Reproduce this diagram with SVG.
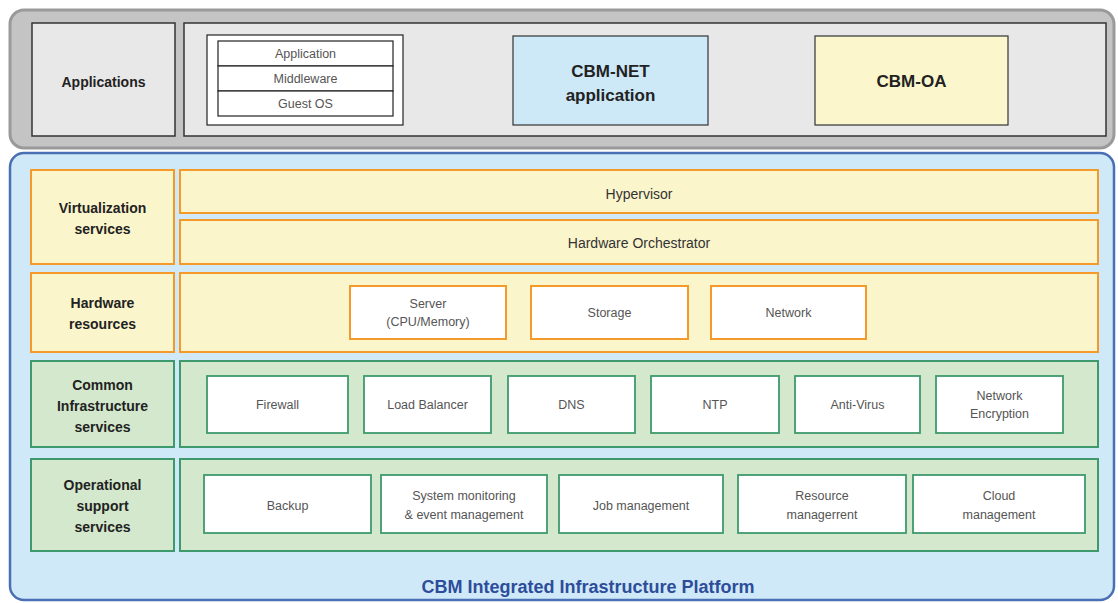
<svg xmlns="http://www.w3.org/2000/svg" width="1118" height="603" viewBox="0 0 1118 603">
<style>
text{font-family:"Liberation Sans","DejaVu Sans",Arial,sans-serif;text-anchor:middle;dominant-baseline:central}
.lbl{font-size:14px;font-weight:bold;fill:#222}
.big{font-size:17px;font-weight:bold;fill:#222}
.item{font-size:12.5px;fill:#555}
.mid{font-size:14px;fill:#333}
.gbox{fill:#e8e8e8;stroke:#333;stroke-width:1.5}
.ybox{fill:#fbf5cc;stroke:#f39a2a;stroke-width:2}
.gr{fill:#d3e8cc;stroke:#3e9a6c;stroke-width:2}
.wo{fill:#fff;stroke:#f39a2a;stroke-width:2}
.wg{fill:#fff;stroke:#3e9a6c;stroke-width:1.8}
.stk{fill:#fff;stroke:#222;stroke-width:1.2}
</style>
<g id="app-panel">
<rect x="10" y="10" width="1104" height="138" rx="14" fill="#c4c4c4" stroke="#9a9a9a" stroke-width="3"/>
</g>
<g id="applications-label">
<rect class="gbox" x="32" y="23" width="143" height="113"/>
<text class="lbl" x="103.5" y="82">Applications</text>
</g>
<g id="app-area">
<rect class="gbox" x="184" y="23" width="922" height="113"/>
</g>
<g id="guest-stack">
<rect class="stk" x="207" y="35" width="196" height="90"/>
<rect class="stk" x="218" y="41" width="175" height="25"/>
<rect class="stk" x="218" y="66" width="175" height="25"/>
<rect class="stk" x="218" y="91" width="175" height="25"/>
<text class="item" x="305.5" y="54">Application</text>
<text class="item" x="305.5" y="79">Middleware</text>
<text class="item" x="305.5" y="104">Guest OS</text>
</g>
<g id="cbm-net">
<rect x="513" y="36" width="195" height="89" fill="#cde9f8" stroke="#333" stroke-width="1.2"/>
<text class="big" x="610.5" y="71">CBM-NET</text>
<text class="big" x="610.5" y="95">application</text>
</g>
<g id="cbm-oa">
<rect x="815" y="36" width="193" height="89" fill="#fbf6cc" stroke="#333" stroke-width="1.2"/>
<text class="big" x="911.5" y="81">CBM-OA</text>
</g>
<g id="platform">
<rect x="10" y="153" width="1104" height="447" rx="14" fill="#cfe9f9" stroke="#4a6fb5" stroke-width="2.5"/>
<text x="588" y="587" style="font-size:18px;font-weight:bold;fill:#2d4d9a">CBM Integrated Infrastructure Platform</text>
</g>
<g id="virtualization">
<rect class="ybox" x="31" y="170" width="143" height="94"/>
<text class="lbl" x="102.5" y="208">Virtualization</text>
<text class="lbl" x="102.5" y="229">services</text>
</g>
<g id="hypervisor">
<rect class="ybox" x="180" y="170" width="918" height="43"/>
<text class="mid" x="639" y="194">Hypervisor</text>
</g>
<g id="hw-orchestrator">
<rect class="ybox" x="180" y="220" width="918" height="44"/>
<text class="mid" x="639" y="243">Hardware Orchestrator</text>
</g>
<g id="hardware">
<rect class="ybox" x="31" y="273" width="143" height="79"/>
<text class="lbl" x="102.5" y="303">Hardware</text>
<text class="lbl" x="102.5" y="324">resources</text>
<rect class="ybox" x="180" y="273" width="918" height="79"/>
</g>
<g id="server"><rect class="wo" x="350" y="286" width="156" height="53"/><text class="item" x="428" y="304">Server</text><text class="item" x="428" y="322">(CPU/Memory)</text></g>
<g id="storage"><rect class="wo" x="531" y="286" width="157" height="53"/><text class="item" x="609.5" y="313">Storage</text></g>
<g id="network"><rect class="wo" x="711" y="286" width="155" height="53"/><text class="item" x="788.5" y="313">Network</text></g>
<g id="common">
<rect class="gr" x="31" y="361" width="143" height="86"/>
<text class="lbl" x="102.5" y="385">Common</text>
<text class="lbl" x="102.5" y="406">Infrastructure</text>
<text class="lbl" x="102.5" y="427">services</text>
<rect class="gr" x="180" y="361" width="918" height="86"/>
</g>
<g id="firewall"><rect class="wg" x="207" y="376" width="141" height="57"/><text class="item" x="277.5" y="405">Firewall</text></g>
<g id="load-balancer"><rect class="wg" x="364" y="376" width="127" height="57"/><text class="item" x="427.5" y="405">Load Balancer</text></g>
<g id="dns"><rect class="wg" x="508" y="376" width="127" height="57"/><text class="item" x="571.5" y="405">DNS</text></g>
<g id="ntp"><rect class="wg" x="651" y="376" width="128" height="57"/><text class="item" x="715" y="405">NTP</text></g>
<g id="anti-virus"><rect class="wg" x="795" y="376" width="125" height="57"/><text class="item" x="857.5" y="405">Anti-Virus</text></g>
<g id="net-encryption"><rect class="wg" x="936" y="376" width="127" height="57"/><text class="item" x="999.5" y="396">Network</text><text class="item" x="999.5" y="414">Encryption</text></g>
<g id="operational">
<rect class="gr" x="31" y="459" width="143" height="92"/>
<text class="lbl" x="102.5" y="485">Operational</text>
<text class="lbl" x="102.5" y="506">support</text>
<text class="lbl" x="102.5" y="527">services</text>
<rect class="gr" x="180" y="459" width="918" height="92"/>
</g>
<g id="backup"><rect class="wg" x="204" y="475" width="167" height="58"/><text class="item" x="287.5" y="506">Backup</text></g>
<g id="sys-monitoring"><rect class="wg" x="381" y="475" width="166" height="58"/><text class="item" x="464" y="496">System monitoring</text><text class="item" x="464" y="515">&amp; event management</text></g>
<g id="job-mgmt"><rect class="wg" x="559" y="475" width="164" height="58"/><text class="item" x="641" y="506">Job management</text></g>
<g id="resource-mgmt"><rect class="wg" x="738" y="475" width="168" height="58"/><text class="item" x="822" y="496">Resource</text><text class="item" x="822" y="515">managerrent</text></g>
<g id="cloud-mgmt"><rect class="wg" x="913" y="475" width="172" height="58"/><text class="item" x="999" y="496">Cloud</text><text class="item" x="999" y="515">management</text></g>
<g id="connectors"></g>
</svg>
